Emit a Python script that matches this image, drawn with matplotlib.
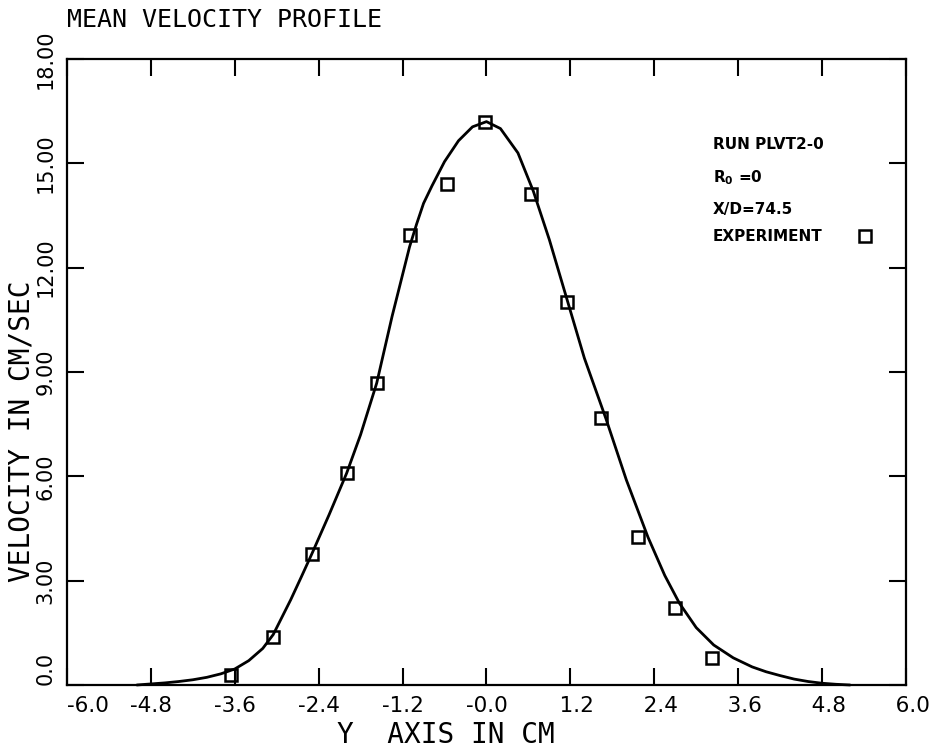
import matplotlib
matplotlib.use("Agg")
import matplotlib.pyplot as plt

# Experimental points (Y axis in cm, velocity in cm/sec)
exp_y = [-3.66, -3.05, -2.50, -2.00, -1.57, -1.10, -0.57, -0.02, 0.64, 1.15, 1.64, 2.17, 2.70, 3.22]
exp_v = [0.29, 1.38, 3.76, 6.09, 8.68, 12.95, 14.40, 16.18, 14.11, 11.00, 7.67, 4.25, 2.21, 0.78]

# Computed profile
curve_y = [-5.0, -4.8, -4.6, -4.4, -4.2, -4.0, -3.8, -3.6, -3.4, -3.2, -3.05, -2.8, -2.65, -2.5,
           -2.25, -2.0, -1.8, -1.57, -1.35, -1.1, -1.0, -0.9, -0.78, -0.6, -0.4, -0.2, 0.0,
           0.2, 0.45, 0.67, 0.9, 1.15, 1.4, 1.71, 2.0, 2.31, 2.55, 2.76, 3.0, 3.25, 3.53,
           3.8, 4.0, 4.2, 4.4, 4.6, 4.8, 5.0, 5.2]
curve_v = [0.0, 0.03, 0.06, 0.1, 0.15, 0.22, 0.32, 0.46, 0.7, 1.05, 1.45, 2.45, 3.1, 3.76,
           4.9, 6.09, 7.2, 8.68, 10.6, 12.6, 13.25, 13.85, 14.35, 15.05, 15.65, 16.05, 16.2,
           16.0, 15.3, 14.2, 12.8, 11.1, 9.4, 7.65, 5.9, 4.25, 3.15, 2.35, 1.65, 1.15, 0.78,
           0.52, 0.38, 0.27, 0.17, 0.1, 0.05, 0.02, 0.0]

xticks = [-6.0, -4.8, -3.6, -2.4, -1.2, 0.0, 1.2, 2.4, 3.6, 4.8, 6.0]
xticklabels = ["-6.0", "-4.8", "-3.6", "-2.4", "-1.2", "-0.0",
               "\u20071.2", "\u20072.4", "\u20073.6", "\u20074.8", "\u20076.0"]
yticks = [0, 3, 6, 9, 12, 15, 18]
yticklabels = ["0.0", "3.00", "6.00", "9.00", "12.00", "15.00", "18.00"]

info_lines = ["RUN PLVT2-0", "R$_{\\mathbf{0}}$ =0", "X/D=74.5"]

fig = plt.figure(figsize=(9.34, 7.51), dpi=100)
ax = fig.add_axes([0.0717, 0.0879, 0.970 - 0.0717, 0.9214 - 0.0879])

ax.plot(curve_y, curve_v, color="black", lw=2.0, clip_on=False, zorder=3,
        solid_joinstyle="round", solid_capstyle="round")
ax.plot(exp_y, exp_v, linestyle="none", marker="s", markersize=8.5,
        markerfacecolor="none", markeredgecolor="black", markeredgewidth=1.8, zorder=4,
        label="EXPERIMENT")

ax.set_xlim(-6, 6)
ax.set_ylim(0, 18)
ax.set_xticks(xticks)
ax.set_xticklabels(xticklabels, fontsize=15.5, family="DejaVu Sans")
ax.get_xticklabels()[0].set_ha("left")
ax.set_yticks(yticks)
ax.set_yticklabels(yticklabels, fontsize=15, rotation=90, va="center", family="DejaVu Sans")
ax.get_yticklabels()[0].set_va("bottom")
ax.tick_params(axis="both", direction="in", length=12, width=1.5, top=True, right=True,
               labeltop=False, labelright=False)
ax.tick_params(axis="x", pad=8)
ax.tick_params(axis="y", pad=8)
for s in ax.spines.values():
    s.set_linewidth(1.6)

ax.set_xlabel("Y  AXIS IN CM", fontsize=20, family="DejaVu Sans Mono")
ax.xaxis.set_label_coords(0.452, -0.058)
ax.set_ylabel("VELOCITY IN CM/SEC", fontsize=20, family="DejaVu Sans Mono")
ax.yaxis.set_label_coords(-0.038, 0.405)

fig.text(0.0717, 0.973, "MEAN VELOCITY PROFILE", fontsize=18, family="DejaVu Sans Mono",
         ha="left", va="center")

ys = [0.863, 0.810, 0.760]
for t, yy in zip(info_lines, ys):
    ax.text(0.770, yy, t, transform=ax.transAxes, fontsize=11, fontweight="bold",
            ha="left", va="center")

leg = ax.legend(loc="center left", bbox_to_anchor=(0.769, 0.716), frameon=False,
                markerfirst=False, handlelength=0.8, handletextpad=2.4,
                prop={"size": 11, "weight": "bold"}, borderaxespad=0, borderpad=0)

fig.savefig("out.png", dpi=100)
